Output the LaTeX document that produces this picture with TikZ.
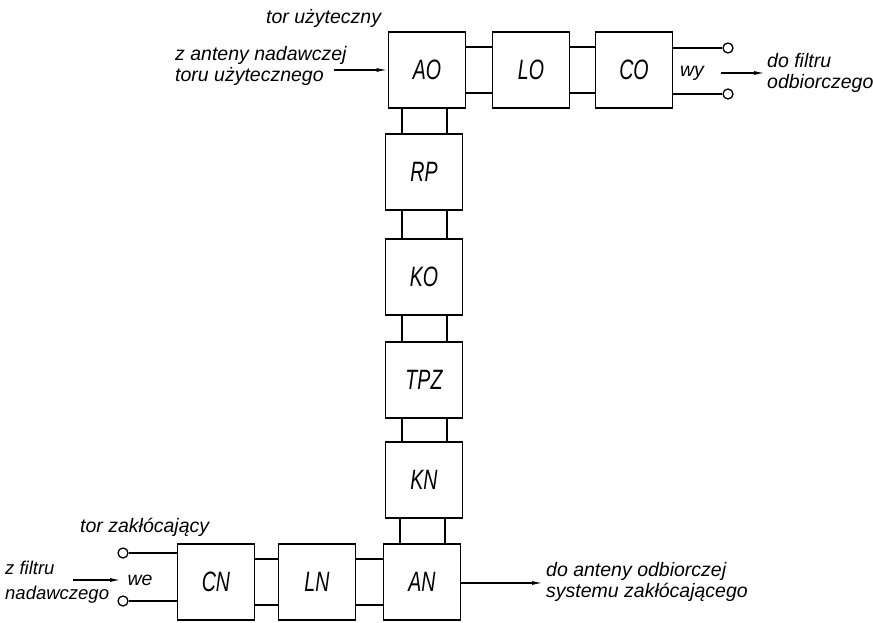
\documentclass[tikz,border=0pt]{standalone}
\usepackage{fontspec}
\setmainfont{Liberation Sans}
\newfontfamily\blokfont{Liberation Sans}[FakeStretch=0.7]
\usepackage{tikz}
\usetikzlibrary{positioning,arrows.meta,calc}
\tikzset{
  blok/.style={rectangle,draw,line width=1.8pt,minimum width=77pt,
    minimum height=76pt,inner sep=0pt,
    font=\blokfont\itshape\fontsize{28}{28}\selectfont},
  zacisk/.style={circle,draw,line width=1.3pt,fill=white,inner sep=0pt,
    minimum size=10pt},
  pol/.style={line width=1.5pt},
  ar/.style={-{Latex[length=11pt,width=4pt]},line width=1.3pt},
  opis/.style={font=\itshape\fontsize{19.5}{21}\selectfont,inner sep=0pt,
    align=left},
}

\begin{document}
\begin{tikzpicture}[x=1pt,y=-1pt]
  \useasboundingbox (0,0) rectangle (873,623);
  % tor uzyteczny
  \node[blok] (AO) at (427,70) {AO};
  \node[blok] (LO) at (531,70) {LO};
  \node[blok] (CO) at (634,70) {CO};
  % kolumna
  \foreach \n/\y in {RP/172,KO/277,TPZ/380,KN/480} {
    \node[blok] (\n) at (424,\y) {\n};
  }
  % tor zaklocajacy
  \node[blok] (CN) at (216,582) {CN};
  \node[blok] (LN) at (317,582) {LN};
  \node[blok] (AN) at (422,582) {AN};
  % polaczenia poziome
  \foreach \a/\b in {AO/LO,LO/CO,CN/LN,LN/AN} {
    \draw[pol] ([yshift=23pt]\a.east) -- ([yshift=23pt]\b.west);
    \draw[pol] ([yshift=-23pt]\a.east) -- ([yshift=-23pt]\b.west);
  }
  % polaczenia pionowe
  \foreach \a/\b in {AO/RP,RP/KO,KO/TPZ,TPZ/KN,KN/AN} {
    \draw[pol] ([xshift=-22pt]\b.north |- \a.south) -- ([xshift=-22pt]\b.north);
    \draw[pol] ([xshift=23pt]\b.north |- \a.south) -- ([xshift=23pt]\b.north);
  }
  % wyjscie
  \node[zacisk] (wy1) at (728,48) {};
  \node[zacisk] (wy2) at (728,94) {};
  \draw[pol] (CO.east |- wy1) -- (wy1);
  \draw[pol] (CO.east |- wy2) -- (wy2);
  \node[opis] (wy) at (692,73) {wy};
  \coordinate (wyA) at (721,73);
  \coordinate (wyB) at (765,73);
  \draw[ar] (wyA) -- (wyB);
  \node[opis,anchor=west] (filtrO) at (767,73) {do filtru\\odbiorczego};
  % wejscie
  \node[zacisk] (we1) at (123,553) {};
  \node[zacisk] (we2) at (123,601) {};
  \draw[pol] (we1) -- (CN.west |- we1);
  \draw[pol] (we2) -- (CN.west |- we2);
  \node[opis] (we) at (140,580) {we};
  \coordinate (weA) at (73,580);
  \coordinate (weB) at (121,580);
  \draw[ar] (weA) -- (weB);
  \node[opis,anchor=west,font=\itshape\fontsize{18.5}{25}\selectfont] (filtrN) at (5,582) {z filtru\\nadawczego};
  % antena nadawcza
  \coordinate (antN) at (334,70);
  \draw[ar] (antN) -- (AO.west |- antN);
  \node[opis,anchor=west] (antNopis) at (175,66) {z anteny nadawczej\\toru użytecznego};
  \node[opis,anchor=west] (torU) at (266,18) {tor użyteczny};
  % antena odbiorcza
  \coordinate (antO) at (543,583);
  \draw[ar] (AN.east |- antO) -- (antO);
  \node[opis,anchor=west] (antOopis) at (546,582) {do anteny odbiorczej\\systemu zakłócającego};
  \node[opis,anchor=west] (torZ) at (80,527) {tor zakłócający};
\end{tikzpicture}
\end{document}
